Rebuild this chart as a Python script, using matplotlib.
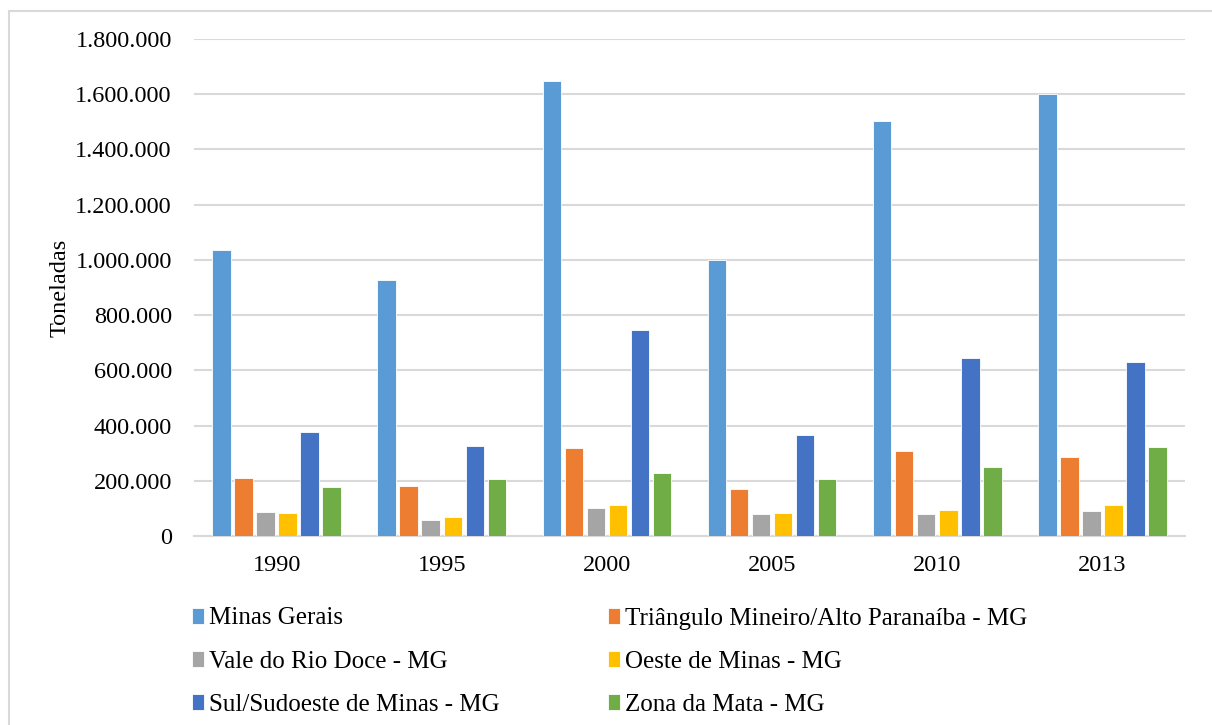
import numpy as np
import matplotlib.pyplot as plt
from matplotlib.patches import Rectangle

anos = ["1990", "1995", "2000", "2005", "2010", "2013"]

minas_gerais = [1037000, 928000, 1649000, 1001000, 1502000, 1600000]
triangulo = [211000, 182000, 317000, 169000, 307000, 286000]
vale_rio_doce = [88000, 58000, 103000, 78000, 80000, 92000]
oeste_minas = [82000, 69000, 111000, 83000, 94000, 111000]
sul_sudoeste = [375000, 325000, 746000, 364000, 644000, 631000]
zona_mata = [176000, 206000, 229000, 205000, 251000, 323000]

series = [
    ("Minas Gerais", minas_gerais, "#5b9bd5"),
    ("Triângulo Mineiro/Alto Paranaíba - MG", triangulo, "#ed7d31"),
    ("Vale do Rio Doce - MG", vale_rio_doce, "#a5a5a5"),
    ("Oeste de Minas - MG", oeste_minas, "#ffc000"),
    ("Sul/Sudoeste de Minas - MG", sul_sudoeste, "#4472c4"),
    ("Zona da Mata - MG", zona_mata, "#70ad47"),
]

fonte = ['Liberation Serif', 'DejaVu Serif']
plt.rcParams['font.family'] = fonte
tam = 17.5

fig = plt.figure(figsize=(12.12, 7.25), dpi=100)
ax = fig.add_axes([194 / 1212, 1 - 536 / 725, (1185 - 194) / 1212, (536 - 39) / 725])

x = np.arange(len(anos))
passo = 0.1333
largura = 0.112
barras = []
for i, (nome, valores, cor) in enumerate(series):
    b = ax.bar(x + (i - 2.5) * passo, valores, width=largura, color=cor,
               edgecolor="white", linewidth=0.6, label=nome, zorder=3)
    barras.append(b)

ax.set_xlim(-0.5, len(anos) - 0.5)
ax.set_ylim(0, 1800000)
ax.set_yticks(np.arange(0, 1800001, 200000))
ax.set_yticklabels([f"{v:,}".replace(",", ".") for v in range(0, 1800001, 200000)])
ax.set_xticks(x)
ax.set_xticklabels(anos)
ax.tick_params(axis="both", length=0, labelsize=tam, colors="black")
ax.tick_params(axis="y", pad=16)
ax.tick_params(axis="x", pad=14)
ax.grid(axis="y", color="#d9d9d9", linewidth=1.5, zorder=0)
for s in ["top", "right", "left"]:
    ax.spines[s].set_visible(False)
ax.spines["bottom"].set_color("#d9d9d9")
ax.spines["bottom"].set_linewidth(1.5)
ax.set_ylabel("Toneladas", fontsize=tam, labelpad=3)

# legenda em duas colunas, preenchida por linha
ordem = [0, 2, 4, 1, 3, 5]
fig.legend([barras[k] for k in ordem], [series[k][0] for k in ordem],
           loc="upper left", bbox_to_anchor=(179 / 1212, 1 - 595 / 725), ncol=2,
           frameon=False, prop={"family": fonte, "size": 18},
           handlelength=0.5, handleheight=0.6, handletextpad=0.2,
           columnspacing=4.33, labelspacing=0.85, borderpad=0)

# moldura externa do gráfico
fig.patches.append(Rectangle((9 / 1212, -0.01), 1.02, 1 - 11 / 725 + 0.01,
                             transform=fig.transFigure, fill=False,
                             edgecolor="#d9d9d9", linewidth=1.5))

fig.savefig("out.png", dpi=100)
